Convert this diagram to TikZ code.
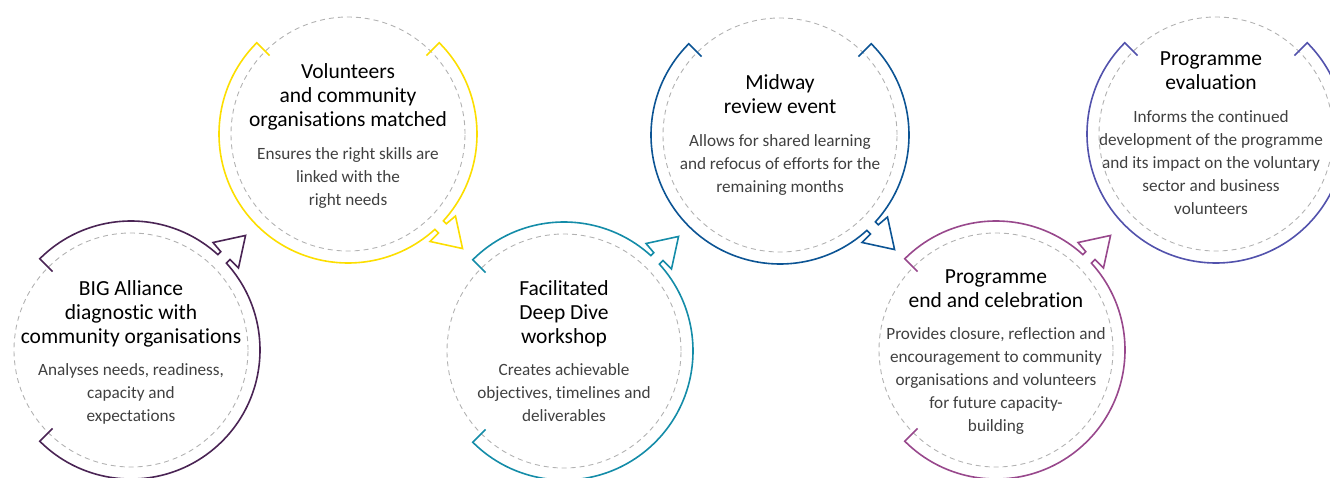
\documentclass[tikz,border=0pt]{standalone}
\usepackage{fontspec}
\setmainfont{Carlito}[Ligatures=NoCommon]
\usetikzlibrary{positioning}

\definecolor{diagpurple}{RGB}{74,36,84}
\definecolor{matchyellow}{RGB}{252,222,0}
\definecolor{diveteal}{RGB}{20,140,168}
\definecolor{midwayblue}{RGB}{12,84,148}
\definecolor{closeplum}{RGB}{152,72,140}
\definecolor{evalindigo}{RGB}{82,82,172}
\definecolor{guidegray}{RGB}{178,178,178}
\definecolor{bodygray}{RGB}{64,64,64}

\tikzset{
  guide/.style = {circle, draw=guidegray, dash pattern=on 5pt off 4pt, line width=0.9pt, minimum size=234pt, inner sep=0pt},
  ring/.style = {line width=1.6pt, line join=miter},
  headtext/.style = {align=center, inner sep=0pt, anchor=north, text=black, font=\fontsize{21.5}{24}\selectfont},
  bodytext/.style = {align=center, inner sep=0pt, text=bodygray, font=\fontsize{17.2}{23}\selectfont},
  arrowring/.pic = {
    \draw[ring] (90:111) -- (90:129) arc[start angle=90, end angle=2.67, radius=129pt]
      -- (133,6) -- (134,18) -- (162,0) -- (134,-18) -- (134,-6)
      -- (-2.67:129) arc[start angle=-2.67, end angle=-180, radius=129pt] -- (180:111);
  },
  openring/.pic = {
    \draw[ring] (90:111) -- (90:129) arc[start angle=90, end angle=-180, radius=129pt] -- (180:111);
  }
}

\begin{document}
\begin{tikzpicture}[x=1pt, y=1pt]
\useasboundingbox (0,0) rectangle (1330,477);

% dashed guide circles
\node[guide] (diag) at (131,127) {};
\node[guide] (match) at (348,343) {};
\node[guide] (dive) at (564,126) {};
\node[guide] (midway) at (780,342) {};
\node[guide] (close) at (996,127) {};
\node[guide] (review) at (1216,343) {};

% coloured rings with arrows
\pic[diagpurple, rotate=45] at (diag.center) {arrowring};
\pic[matchyellow, rotate=-45] at (match.center) {arrowring};
\pic[diveteal, rotate=45] at (dive.center) {arrowring};
\pic[midwayblue, rotate=-45] at (midway.center) {arrowring};
\pic[closeplum, rotate=45] at (close.center) {arrowring};
\pic[evalindigo, rotate=-45] at (review.center) {openring};

% titles
\node[headtext] (diagt) at ([yshift=72pt]diag.center) {\strut BIG Alliance\\diagnostic with\\community organisations\strut};
\node[headtext] (matcht) at ([yshift=72pt]match.center) {\strut Volunteers\\and community\\organisations matched\strut};
\node[headtext] (divet) at ([yshift=73pt]dive.center) {\strut Facilitated\\Deep Dive\\workshop\strut};
\node[headtext] (midwayt) at ([yshift=62pt]midway.center) {\strut Midway\\review event\strut};
\node[headtext] (closet) at ([yshift=84pt]close.center) {\strut Programme\\end and celebration\strut};
\node[headtext] (reviewt) at ([xshift=-5pt, yshift=85pt]review.center) {\strut Programme\\evaluation\strut};

% descriptions
\node[bodytext, below=8.7pt of diagt] (diagb) {\strut Analyses needs, readiness,\\capacity and\\expectations};
\node[bodytext, below=8.7pt of matcht] (matchb) {\strut Ensures the right skills are\\linked with the\\right needs};
\node[bodytext, below=8.7pt of divet] (diveb) {\strut Creates achievable\\objectives, timelines and\\deliverables};
\node[bodytext, below=8.7pt of midwayt] (midwayb) {\strut Allows for shared learning\\and refocus of efforts for the\\remaining months};
\node[bodytext, below=8.7pt of closet] (closeb) {\strut Provides closure, reflection and\\encouragement to community\\organisations and volunteers\\for future capacity-\\building};
\node[bodytext, below=8.7pt of reviewt] (reviewb) {\strut Informs the continued\\development of the programme\\and its impact on the voluntary\\sector and business\\volunteers};
\end{tikzpicture}
\end{document}
